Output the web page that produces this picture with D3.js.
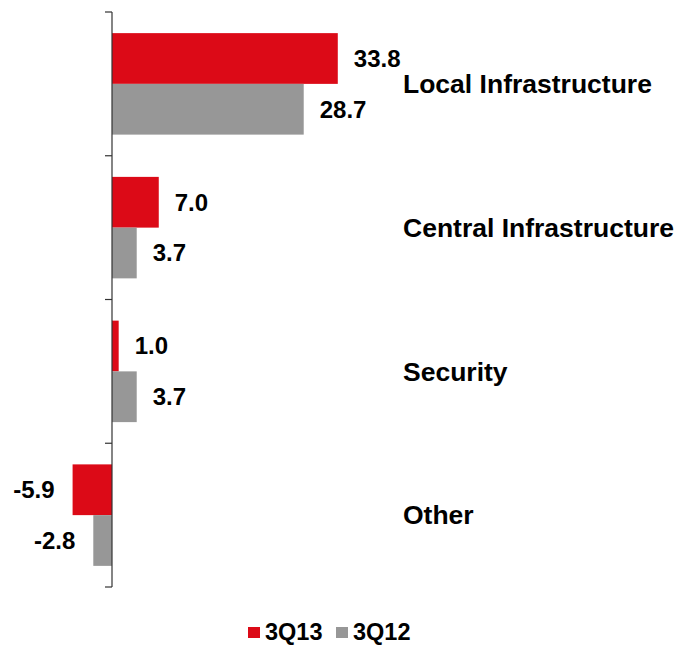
<!DOCTYPE html>
<html>
<head>
<meta charset="utf-8">
<script src="https://cdn.jsdelivr.net/npm/d3@7"></script>
<style>
  html, body { margin: 0; padding: 0; background: #fff; }
  svg { display: block; }
  text { font-family: "Liberation Sans", Arial, sans-serif; font-weight: bold; fill: #000; }
</style>
</head>
<body>
<svg id="chart" width="679" height="645"></svg>
<script>
// Segment growth by category, two periods
const categories = ["Local Infrastructure", "Central Infrastructure", "Security", "Other"];
const seriesNames = ["3Q13", "3Q12"];
const values3Q13 = [33.8, 7.0, 1.0, -5.9];
const values3Q12 = [28.7, 3.7, 3.7, -2.8];
const colors = ["#DC0A17", "#979797"];

const svg = d3.select("#chart");

const axisX = 112;
const unit = 6.68;
const x = d3.scaleLinear()
  .domain([-10, 70])
  .range([axisX - 10 * unit, axisX + 70 * unit]);

const y = d3.scaleBand()
  .domain(categories)
  .range([12, 587])
  .padding(0);

const bw = y.bandwidth();
const inner = d3.scaleBand()
  .domain(seriesNames)
  .range([bw * 0.147, bw * 0.853])
  .padding(0);

const rows = categories.map((c, i) => ({
  category: c,
  items: [
    { series: seriesNames[0], value: values3Q13[i], color: colors[0] },
    { series: seriesNames[1], value: values3Q12[i], color: colors[1] }
  ]
}));

const groups = svg.selectAll("g.cat")
  .data(rows)
  .join("g")
  .attr("class", "cat")
  .attr("transform", d => `translate(0,${y(d.category)})`);

groups.selectAll("rect")
  .data(d => d.items)
  .join("rect")
  .attr("x", d => x(Math.min(0, d.value)))
  .attr("width", d => Math.abs(x(d.value) - x(0)))
  .attr("y", d => inner(d.series))
  .attr("height", inner.bandwidth())
  .attr("fill", d => d.color);

// value labels beside each bar end
groups.selectAll("text.val")
  .data(d => d.items)
  .join("text")
  .attr("class", "val")
  .attr("x", d => d.value >= 0 ? x(d.value) + 16 : x(d.value) - 18)
  .attr("y", d => inner(d.series) + inner.bandwidth() / 2)
  .attr("dy", "0.35em")
  .attr("text-anchor", d => d.value >= 0 ? "start" : "end")
  .style("font-size", "24px")
  .text(d => d.value.toFixed(1));

// category labels at the right
groups.append("text")
  .attr("x", 403)
  .attr("y", bw / 2)
  .attr("dy", "0.35em")
  .style("font-size", "26.5px")
  .text(d => d.category);

// category axis with ticks at band edges
const axisG = svg.append("g");
axisG.append("line")
  .attr("x1", x(0)).attr("x2", x(0))
  .attr("y1", y.range()[0]).attr("y2", y.range()[1])
  .attr("stroke", "#333").attr("stroke-width", 1.2);
const tickPos = categories.map(c => y(c)).concat([y.range()[1]]);
axisG.selectAll("line.tick")
  .data(tickPos)
  .join("line")
  .attr("class", "tick")
  .attr("x1", x(0) - 7).attr("x2", x(0))
  .attr("y1", d => d).attr("y2", d => d)
  .attr("stroke", "#333").attr("stroke-width", 1.2);

// legend
const legendItems = [
  { name: seriesNames[0], color: colors[0], x: 248 },
  { name: seriesNames[1], color: colors[1], x: 336 }
];
const legend = svg.append("g");
const lg = legend.selectAll("g")
  .data(legendItems)
  .join("g")
  .attr("transform", d => `translate(${d.x},627)`);
lg.append("rect")
  .attr("width", 12).attr("height", 11)
  .attr("fill", d => d.color);
lg.append("text")
  .attr("x", 17)
  .attr("y", 13)
  .style("font-size", "23.5px")
  .text(d => d.name);
</script>
</body>
</html>
